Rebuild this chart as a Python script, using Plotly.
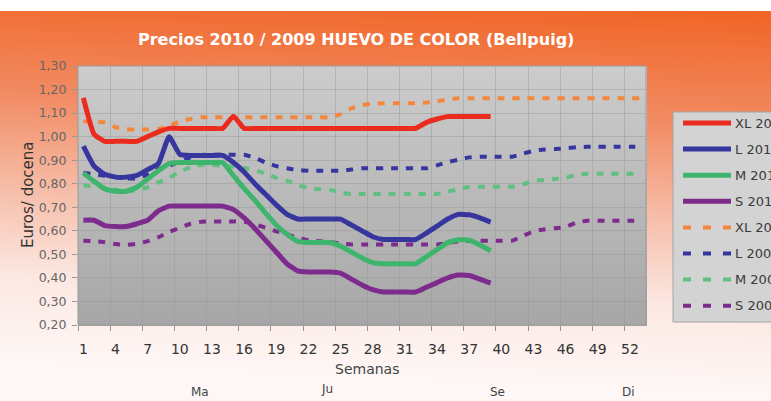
import base64, struct, zlib
import numpy as np
import plotly.graph_objects as go

# ---------------- data ----------------
weeks_2010 = list(range(1, 40))
weeks_2009 = list(range(1, 54))

xl_2010 = [1.165, 1.01, 0.98, 0.98, 0.98, 0.98, 1.00, 1.02, 1.035, 1.035,
           1.035, 1.035, 1.035, 1.035, 1.087, 1.035, 1.035, 1.035, 1.035, 1.035,
           1.035, 1.035, 1.035, 1.035, 1.035, 1.035, 1.035, 1.035, 1.035, 1.035,
           1.035, 1.035, 1.06, 1.075, 1.085, 1.085, 1.085, 1.085, 1.085]
l_2010 = [0.96, 0.875, 0.84, 0.828, 0.828, 0.835, 0.86, 0.885, 1.0, 0.925,
          0.92, 0.92, 0.92, 0.92, 0.89, 0.85, 0.80, 0.755, 0.71, 0.67,
          0.65, 0.65, 0.65, 0.65, 0.65, 0.625, 0.60, 0.575, 0.563, 0.563,
          0.563, 0.563, 0.59, 0.62, 0.65, 0.67, 0.668, 0.655, 0.637]
m_2010 = [0.845, 0.81, 0.778, 0.768, 0.768, 0.785, 0.82, 0.855, 0.885, 0.89,
          0.89, 0.89, 0.89, 0.89, 0.835, 0.78, 0.73, 0.675, 0.625, 0.585,
          0.555, 0.55, 0.55, 0.55, 0.535, 0.51, 0.485, 0.465, 0.46, 0.46,
          0.46, 0.46, 0.49, 0.52, 0.55, 0.562, 0.56, 0.54, 0.515]
s_2010 = [0.645, 0.645, 0.622, 0.618, 0.618, 0.63, 0.645, 0.685, 0.705, 0.705,
          0.705, 0.705, 0.705, 0.705, 0.69, 0.655, 0.61, 0.56, 0.51, 0.46,
          0.43, 0.425, 0.425, 0.425, 0.42, 0.395, 0.37, 0.35, 0.34, 0.34,
          0.34, 0.34, 0.36, 0.38, 0.40, 0.412, 0.41, 0.395, 0.378]

xl_2009 = [1.064, 1.064, 1.06, 1.04, 1.032, 1.03, 1.03, 1.033, 1.045, 1.065,
           1.075, 1.082, 1.082, 1.082, 1.082, 1.082, 1.082, 1.082, 1.082, 1.082,
           1.082, 1.082, 1.082, 1.082, 1.095, 1.12, 1.134, 1.14, 1.142, 1.142,
           1.142, 1.142, 1.145, 1.15, 1.158, 1.163, 1.163, 1.163, 1.163, 1.163,
           1.163, 1.163, 1.163, 1.163, 1.163, 1.163, 1.163, 1.163, 1.163, 1.163,
           1.163, 1.163, 1.163]
l_2009 = [0.846, 0.84, 0.834, 0.83, 0.822, 0.823, 0.84, 0.863, 0.876, 0.895,
          0.912, 0.922, 0.923, 0.923, 0.923, 0.923, 0.91, 0.89, 0.875, 0.866,
          0.858, 0.855, 0.855, 0.855, 0.855, 0.86, 0.866, 0.866, 0.866, 0.866,
          0.866, 0.866, 0.866, 0.878, 0.892, 0.902, 0.912, 0.915, 0.915, 0.915,
          0.915, 0.927, 0.94, 0.945, 0.947, 0.95, 0.955, 0.957, 0.957, 0.957,
          0.957, 0.957, 0.957]
m_2009 = [0.792, 0.79, 0.785, 0.775, 0.767, 0.772, 0.785, 0.806, 0.825, 0.85,
          0.87, 0.88, 0.88, 0.877, 0.873, 0.867, 0.858, 0.843, 0.825, 0.813,
          0.795, 0.782, 0.777, 0.775, 0.762, 0.756, 0.756, 0.756, 0.756, 0.756,
          0.756, 0.756, 0.756, 0.756, 0.766, 0.778, 0.786, 0.787, 0.787, 0.787,
          0.787, 0.797, 0.812, 0.816, 0.82, 0.825, 0.838, 0.842, 0.842, 0.842,
          0.842, 0.842, 0.842]
s_2009 = [0.558, 0.556, 0.552, 0.544, 0.54, 0.545, 0.556, 0.573, 0.595, 0.613,
          0.63, 0.639, 0.64, 0.64, 0.64, 0.64, 0.628, 0.613, 0.598, 0.585,
          0.57, 0.56, 0.556, 0.552, 0.546, 0.542, 0.542, 0.542, 0.542, 0.542,
          0.542, 0.542, 0.542, 0.542, 0.548, 0.556, 0.558, 0.558, 0.558, 0.558,
          0.558, 0.578, 0.598, 0.606, 0.611, 0.616, 0.635, 0.643, 0.643, 0.643,
          0.643, 0.643, 0.643]

series_names = ["XL 2010", "L 2010", "M 2010", "S 2010",
                "XL 2009", "L 2009", "M 2009", "S 2009"]
x_tick_vals = list(range(1, 53, 3))
x_tick_text = [str(v) for v in x_tick_vals]
month_labels = ["Ma", "Ju", "Se", "Di"]

# ---------------- styles ----------------
C_RED = "#ea2b1e"
C_ORANGE = "#f2873d"
C_BLUE = "#36369e"
C_GREEN = "#3eb56c"
C_LGREEN = "#62bf82"
C_PURPLE = "#7d2b8c"

W, H = 771, 401
PL, PR, PT, PB = 78, 646, 66, 325


def px(xp):
    return (xp - PL) / (PR - PL)


def py(yp):
    return (PB - yp) / (PB - PT)


def png_uri(arr):
    h, w, _ = arr.shape
    raw = b"".join(b"\x00" + arr[i].tobytes() for i in range(h))

    def chunk(tag, data):
        c = struct.pack(">I", len(data)) + tag + data
        return c + struct.pack(">I", zlib.crc32(tag + data) & 0xffffffff)

    png = b"\x89PNG\r\n\x1a\n" + chunk(b"IHDR", struct.pack(">IIBBBBB", w, h, 8, 2, 0, 0, 0))
    png += chunk(b"IDAT", zlib.compress(raw, 9)) + chunk(b"IEND", b"")
    return "data:image/png;base64," + base64.b64encode(png).decode()


# background gradient (decoration)
yy, xx = np.mgrid[0:H, 0:W].astype(float)
t = (yy - 11) / 330 + 0.10 * (1 - xx / W)
stops_t = [0.0, 0.35, 0.65, 0.9, 1.15]
stops_c = [(241, 101, 38), (242, 140, 100), (247, 192, 172), (252, 232, 226), (254, 247, 246)]
img = np.zeros((H, W, 3))
for ch in range(3):
    img[..., ch] = np.interp(t, stops_t, [c[ch] for c in stops_c])
img[yy < 11] = 255
# plot area gray gradient
mask = (xx >= PL) & (xx <= PR) & (yy >= PT) & (yy <= PB)
g = 205 - (yy - PT) / (PB - PT) * 38
for ch in range(3):
    img[..., ch] = np.where(mask, g, img[..., ch])
img = np.clip(img, 0, 255).astype(np.uint8)
bg_uri = png_uri(img)

fig = go.Figure()

solid = [(xl_2010, C_RED), (l_2010, C_BLUE), (m_2010, C_GREEN), (s_2010, C_PURPLE)]
dashed = [(xl_2009, C_ORANGE), (l_2009, C_BLUE), (m_2009, C_LGREEN), (s_2009, C_PURPLE)]

for (vals, col), name in zip(dashed, series_names[4:]):
    fig.add_trace(go.Scatter(x=weeks_2009, y=vals, mode="lines", name=name,
                             line=dict(color=col, width=4, dash="7px,8px", shape="spline", smoothing=0.4),
                             showlegend=False))
for (vals, col), name in zip(solid, series_names[:4]):
    fig.add_trace(go.Scatter(x=weeks_2010, y=vals, mode="lines", name=name,
                             line=dict(color=col, width=5, shape="spline", smoothing=0.4),
                             showlegend=False))

shapes = []
annotations = []

# plot border
shapes.append(dict(type="rect", xref="paper", yref="paper", x0=0, x1=1, y0=0, y1=1,
                   line=dict(color="#9a9a9a", width=1), layer="above"))

# legend (manual)
shapes.append(dict(type="rect", xref="paper", yref="paper",
                   x0=px(673), x1=px(800), y0=py(322), y1=py(112),
                   fillcolor="#d3d3d3", line=dict(color="#a5a5a5", width=1), layer="above"))
leg_cols = [C_RED, C_BLUE, C_GREEN, C_PURPLE, C_ORANGE, C_BLUE, C_LGREEN, C_PURPLE]
for i, name in enumerate(series_names):
    yc = 123 + i * 26.1
    dash = "solid" if i < 4 else "8px,12px"
    shapes.append(dict(type="line", xref="paper", yref="paper",
                       x0=px(683), x1=px(731), y0=py(yc), y1=py(yc),
                       line=dict(color=leg_cols[i], width=5 if i < 4 else 4, dash=dash), layer="above"))
    annotations.append(dict(text=name, xref="paper", yref="paper", x=px(733), y=py(yc),
                            xanchor="left", yanchor="middle", showarrow=False,
                            font=dict(family="DejaVu Sans", size=13, color="#3a3a3a")))

# title
annotations.append(dict(text="<b>Precios 2010 / 2009 HUEVO DE COLOR (Bellpuig)</b>",
                        xref="paper", yref="paper", x=px(356), y=py(40),
                        xanchor="center", yanchor="middle", showarrow=False,
                        font=dict(family="DejaVu Sans", size=16, color="white")))
# axis titles
annotations.append(dict(text="Euros/ docena", xref="paper", yref="paper", x=px(28), y=py(195),
                        xanchor="center", yanchor="middle", textangle=-90, showarrow=False,
                        font=dict(family="DejaVu Sans", size=15, color="#333333")))
annotations.append(dict(text="Semanas", xref="paper", yref="paper", x=px(367), y=py(369),
                        xanchor="center", yanchor="middle", showarrow=False,
                        font=dict(family="DejaVu Sans", size=14, color="#444444")))
month_x = [200, 327, 497, 628]
month_y = [392, 389, 392, 392]
for lab, mx, my in zip(month_labels, month_x, month_y):
    annotations.append(dict(text=lab, xref="paper", yref="paper", x=px(mx), y=py(my),
                            xanchor="center", yanchor="middle", showarrow=False,
                            font=dict(family="DejaVu Sans", size=12, color="#444444")))

fig.update_layout(
    width=W, height=H,
    margin=dict(l=PL, r=W - PR, t=PT, b=H - PB, autoexpand=False),
    paper_bgcolor="white", plot_bgcolor="rgba(0,0,0,0)",
    separators=",.",
    showlegend=False,
    hovermode=False,
    shapes=shapes, annotations=annotations,
    images=[dict(source=bg_uri, xref="paper", yref="paper",
                 x=px(0), y=py(0), sizex=px(W) - px(0), sizey=py(0) - py(H),
                 xanchor="left", yanchor="top", sizing="stretch", layer="below")],
)
fig.update_xaxes(range=[0.5, 53.5], tickmode="array", tickvals=x_tick_vals, ticktext=x_tick_text,
                 showgrid=False, zeroline=False, ticks="", ticklabelstandoff=14,
                 tickfont=dict(family="DejaVu Sans", size=14, color="#333333"),
                 minor=dict(tick0=0.5, dtick=3, showgrid=True, gridcolor="rgba(150,150,150,0.45)",
                            gridwidth=1, ticks="outside", ticklen=5, tickcolor="#999999"))
fig.update_yaxes(range=[0.2, 1.3], dtick=0.1, tick0=0.2, tickformat=".2f",
                 showgrid=True, gridcolor="rgba(150,150,150,0.45)", gridwidth=1, zeroline=False,
                 ticks="outside", ticklen=5, tickcolor="#999999", ticklabelstandoff=3,
                 tickfont=dict(family="DejaVu Sans", size=12.5, color="#666666"))

fig.write_html("out.html",
               config={"displayModeBar": False},
               post_script="document.body.style.margin='0px';document.body.style.overflow='hidden';")
